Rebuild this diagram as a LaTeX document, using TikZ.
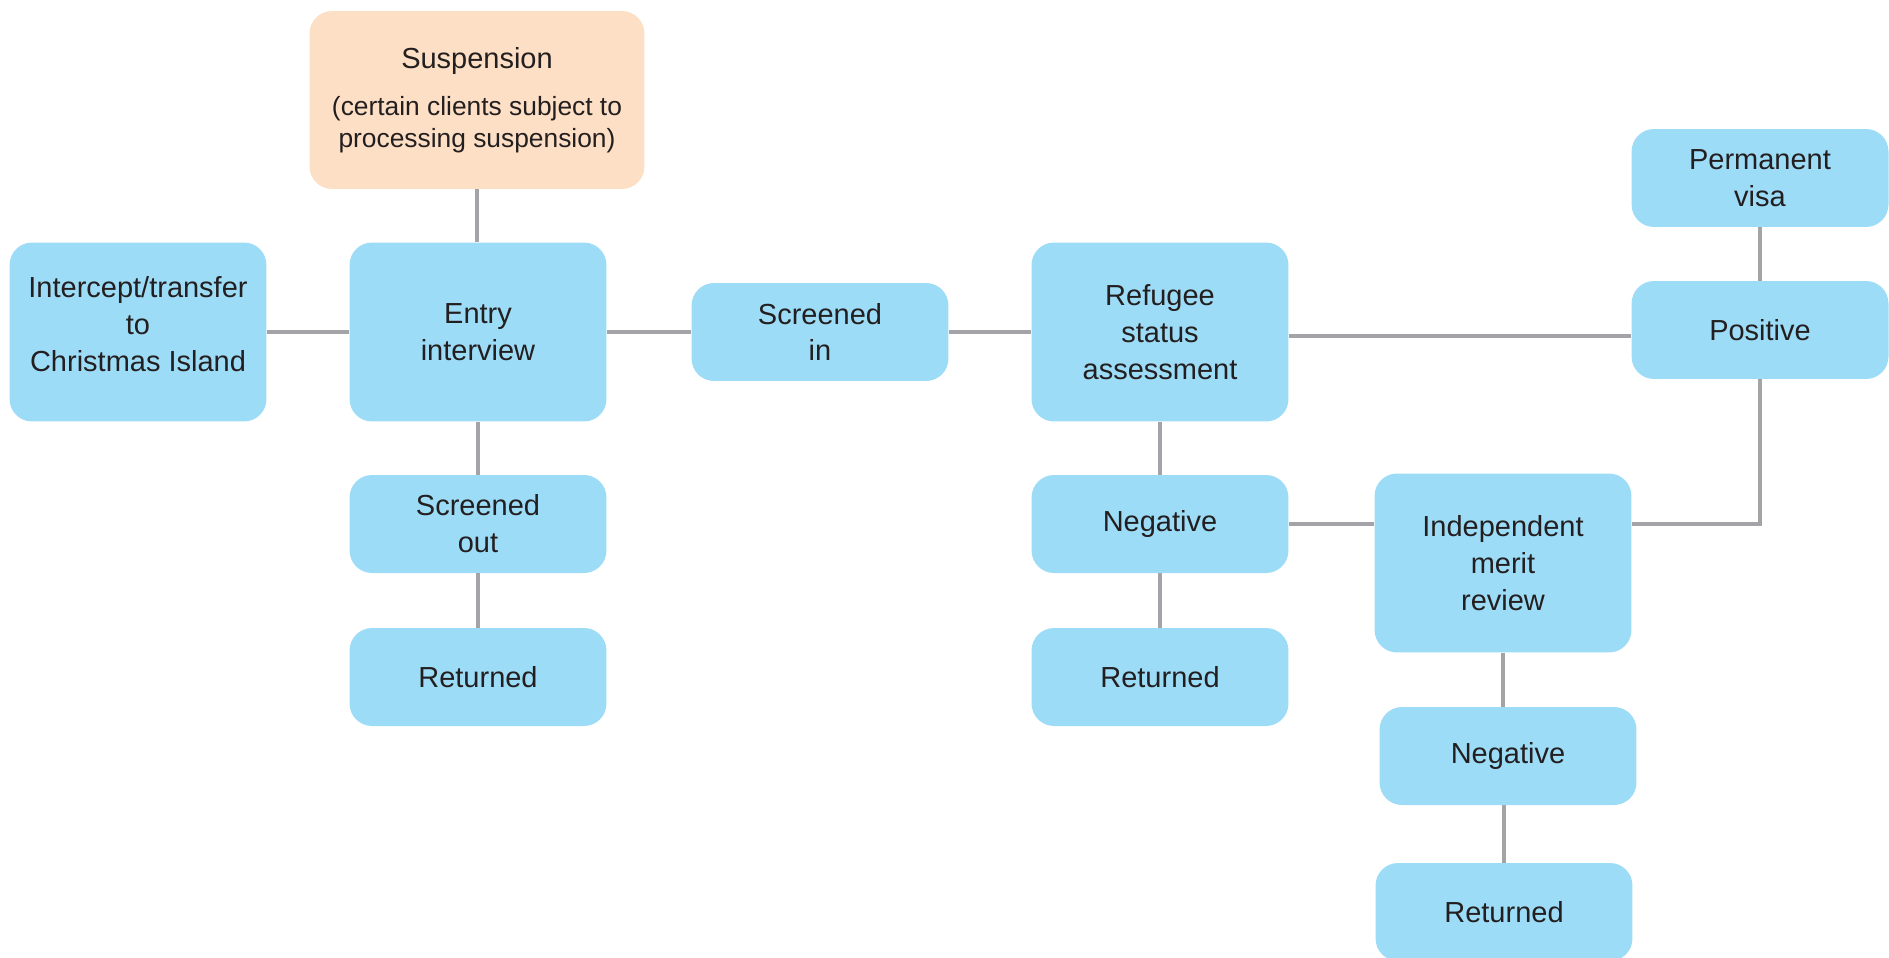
\documentclass[tikz,border=0pt]{standalone}
\usepackage{fontspec}
\setmainfont{Liberation Sans}
\usetikzlibrary{positioning, calc}

\begin{document}
\begin{tikzpicture}[
    x=0.02cm, y=-0.02cm,
    box/.style={rectangle, rounded corners=0.45cm, fill=myblue, text=mytext, minimum width=5.14cm, minimum height=1.96cm, inner sep=0pt, anchor=center, align=center, font=\fontsize{16.5}{21}\selectfont},
    tallbox/.style={box, minimum height=3.58cm},
    orangebox/.style={tallbox, fill=myorange, minimum width=6.7cm, minimum height=3.56cm},
    link/.style={draw=mygray, line width=2.2pt}
]

% Define colors
\definecolor{myblue}{RGB}{157,220,247}
\definecolor{myorange}{RGB}{252,223,197}
\definecolor{mygray}{RGB}{163,163,168}
\definecolor{mytext}{RGB}{35,31,32}

\useasboundingbox (0,0) rectangle (1889,957);

% --- Left part ---
\node[tallbox] (intercept) at (138, 332) {Intercept/transfer\\to\\Christmas Island\\[-12pt]};
\node[orangebox] (suspension) at (477, 100) {Suspension\\[6pt]{\fontsize{15}{18}\selectfont (certain clients subject to}\\[-3pt]{\fontsize{15}{18}\selectfont processing suspension)}};
\node[tallbox] (entry) at (478, 332) {Entry\\interview};
\node[box] (screenedout) at (478, 524) {Screened\\out};
\node[box] (returnedA) at (478, 677) {Returned};
\node[box] (screenedin) at (820, 332) {Screened\\in};

% --- Assessment ---
\node[tallbox] (refugee) at (1160, 332) {Refugee\\status\\assessment};
\node[box] (negativeA) at (1160, 524) {Negative};
\node[box] (returnedB) at (1160, 677) {Returned};

% --- Review ---
\node[tallbox] (independent) at (1503, 563) {Independent\\merit\\review};
\node[box] (negativeB) at (1508, 756) {Negative};
\node[box] (returnedC) at (1504, 912) {Returned};

% --- Outcome ---
\node[box] (permanent) at (1760, 178) {Permanent\\visa};
\node[box] (positive) at (1760, 330) {Positive};

% --- Connectors ---
\draw[link] (intercept) -- (entry);
\draw[link] (suspension.south) -- (suspension.south |- entry.north);
\draw[link] (entry) -- (screenedin);
\draw[link] (screenedin) -- (refugee);
\draw[link] ($(refugee.east)+(0,4)$) -- ($(refugee.east -| positive.west)+(0,4)$);
\draw[link] (entry) -- (screenedout);
\draw[link] (screenedout) -- (returnedA);
\draw[link] (refugee) -- (negativeA);
\draw[link] (negativeA) -- (returnedB);
\draw[link] (negativeA.east) -- (negativeA.east -| independent.west);
\draw[link] (independent.east |- negativeA) -| (positive.south);
\draw[link] (independent.south) -- (independent.south |- negativeB.north);
\draw[link] (returnedC.north) -- (returnedC.north |- negativeB.south);
\draw[link] (permanent) -- (positive);

\end{tikzpicture}
\end{document}
